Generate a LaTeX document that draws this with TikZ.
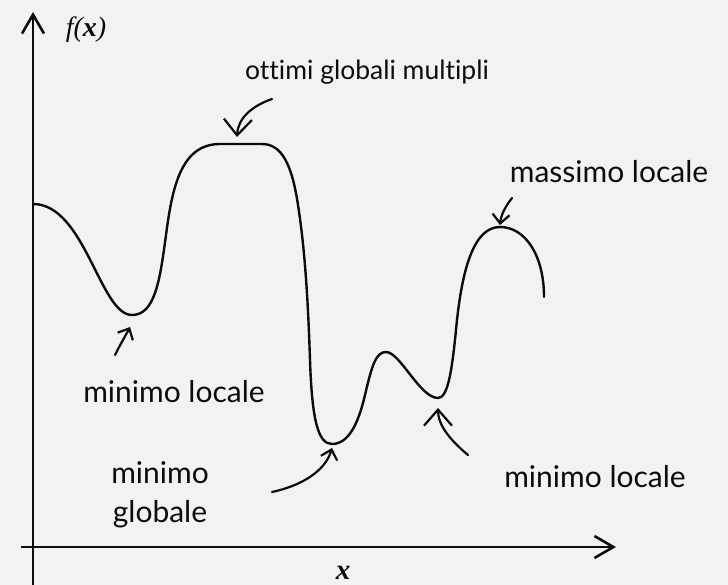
\documentclass[tikz,border=0pt]{standalone}
\usepackage{fontspec}
\setmainfont{Lato}[Ligatures=NoCommon]
\newfontfamily\serifit{Liberation Serif}
\usetikzlibrary{arrows.meta}
\definecolor{paper}{RGB}{242,242,241}
\definecolor{ink}{RGB}{12,12,12}
\tikzstyle{lbl}=[font=\fontsize{30}{39}\selectfont, text=ink, align=center, inner sep=0pt]
\tikzstyle{curve}=[line width=2.4pt, draw=ink, line cap=round, line join=round]
\tikzstyle{axis}=[line width=2.6pt, draw=ink, -{Straight Barb[length=19pt,width=22pt]}]
\tikzstyle{bigarr}=[line width=2.2pt, draw=ink, line cap=round, -{Straight Barb[length=16pt,width=28pt]}]
\tikzstyle{smallarr}=[line width=2.2pt, draw=ink, line cap=round, -{Straight Barb[length=9pt,width=17pt]}]

\begin{document}
\begin{tikzpicture}[x=1pt,y=-1pt]
  \fill[paper] (0,0) rectangle (728,585);
  \useasboundingbox (0,0) rectangle (728,585);
  % axes
  \coordinate (ybot) at (33,585);
  \coordinate (ytop) at (33,12);
  \coordinate (xleft) at (21,547);
  \coordinate (xright) at (616,547);
  \draw[axis] (ybot) -- (ytop);
  \draw[axis] (xleft) -- (xright);
  \node[lbl, font=\serifit\itshape\fontsize{28}{30}\selectfont] (fx) at (86,30) {f(\textbf{x})};
  \node[lbl, font=\serifit\itshape\bfseries\fontsize{29}{30}\selectfont] (xl) at (343,573) {x};
  % the function
  \draw[curve] (33,204) .. controls (85,204) and (100,315) .. (132,315)
    .. controls (155,315) and (160,280) .. (166,235)
    .. controls (172,190) and (180,144) .. (220,144)
    -- (262,144)
    .. controls (282,144) and (292,165) .. (298,205)
    .. controls (305,250) and (308,300) .. (310,360)
    .. controls (312,420) and (318,444) .. (332,444)
    .. controls (348,444) and (358,425) .. (365,395)
    .. controls (372,365) and (376,352) .. (386,352)
    .. controls (400,352) and (420,398) .. (438,398)
    .. controls (448,398) and (452,370) .. (456,330)
    .. controls (462,265) and (475,227) .. (500,227)
    .. controls (525,227) and (544,255) .. (544,297);
  % labels
  \node[lbl, font=\fontsize{26.5}{30}\selectfont] (optLbl) at (367,72) {ottimi globali multipli};
  \node[lbl] (maxLbl) at (609,172) {massimo locale};
  \node[lbl] (lminLbl) at (174,392) {minimo locale};
  \node[lbl] (gminLbl) at (160,495) {minimo\\globale};
  \node[lbl] (rminLbl) at (595,477) {minimo locale};
  % pointers
  \coordinate (optTail) at (272,99);
  \coordinate (optTip) at (237,137);
  \coordinate (maxTail) at (512,198);
  \coordinate (maxTip) at (500,225);
  \coordinate (lminTail) at (115,355);
  \coordinate (lminTip) at (130,327);
  \coordinate (gminTail) at (272,492);
  \coordinate (gminTip) at (332,448);
  \coordinate (rminTail) at (468,455);
  \coordinate (rminTip) at (438,408);
  \draw[bigarr] (optTail) .. controls (252,106) and (238,118) .. (optTip);
  \draw[smallarr] (maxTail) .. controls (505,207) and (501,215) .. (maxTip);
  \draw[smallarr] (lminTail) .. controls (121,343) and (127,333) .. (lminTip);
  \draw[smallarr] (gminTail) .. controls (300,486) and (325,472) .. (gminTip);
  \draw[bigarr] (rminTail) .. controls (450,440) and (438,425) .. (rminTip);
\end{tikzpicture}
\end{document}
